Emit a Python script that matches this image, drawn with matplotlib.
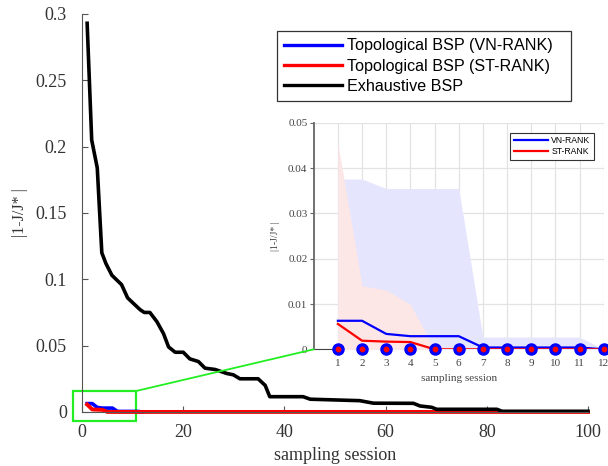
import numpy as np
import matplotlib.pyplot as plt
from matplotlib.patches import Rectangle, ConnectionPatch

# exhaustive BSP curve (vertices)
exh_x = [1, 1.9, 3.0, 3.9, 4.7, 5.9, 7.8, 9.0, 10.1, 11.5, 12.3, 13.4, 14.8, 16.1, 17.1,
         18.4, 20.0, 21.3, 23.0, 24.3, 26.3, 28.6, 29.9, 31.2, 34.8, 36.2, 37.1, 43.7,
         45.1, 54.9, 57.6, 65.5, 66.8, 69.1, 70.1, 82.0, 83.0, 100]
exh_y = [0.293, 0.205, 0.184, 0.120, 0.112, 0.103, 0.096, 0.086, 0.082, 0.077, 0.075,
         0.075, 0.068, 0.059, 0.049, 0.045, 0.045, 0.040, 0.038, 0.033, 0.032, 0.029,
         0.028, 0.025, 0.025, 0.020, 0.0115, 0.0115, 0.0096, 0.0085, 0.0066, 0.0065,
         0.0045, 0.0035, 0.002, 0.002, 0.0005, 0.0005]

# topological BSP, first 12 sessions
sessions = np.arange(1, 13)
vn_mean = [0.0063, 0.0063, 0.0034, 0.0029, 0.0029, 0.0029, 0.0004, 0.0004, 0.0004, 0.0004, 0.0004, 0.0]
st_mean = [0.0056, 0.0019, 0.0017, 0.0016, 0.0, 0.0, 0.0, 0.0, 0.0, 0.0, 0.0, 0.0]
vn_upper = [0.0376, 0.0376, 0.0355, 0.0355, 0.0355, 0.0355, 0.0027, 0.0027, 0.0027, 0.0027, 0.0027, 0.0]
st_upper = [0.0455, 0.014, 0.0131, 0.0099, 0.0, 0.0, 0.0, 0.0, 0.0, 0.0, 0.0, 0.0]

all_sessions = np.arange(1, 101)
st_full = np.concatenate([st_mean, np.zeros(100 - len(st_mean))])

serif = ['Liberation Serif', 'DejaVu Serif']
sans = ['Liberation Sans', 'DejaVu Sans']
axcol = '#555555'

fig = plt.figure(figsize=(6.08, 4.66), dpi=100)
ax = fig.add_axes([0.135, 0.116, 0.832, 0.854])

ax.plot(sessions, vn_mean, color='blue', lw=2.6, clip_on=False, label='Topological BSP (VN-RANK)')
ax.plot(all_sessions, st_full, color='red', lw=2.8, clip_on=False, label='Topological BSP (ST-RANK)')
ax.plot(exh_x, exh_y, color='black', lw=2.6, clip_on=False, label='Exhaustive BSP')

ax.set_xlim(0, 100)
ax.set_ylim(0, 0.3)
ax.set_xticks([0, 20, 40, 60, 80, 100])
ax.set_yticks([0, 0.05, 0.1, 0.15, 0.2, 0.25, 0.3])
ax.set_yticklabels(['0', '0.05', '0.1', '0.15', '0.2', '0.25', '0.3'])
for s in ['top', 'right']:
    ax.spines[s].set_visible(False)
for s in ['left', 'bottom']:
    ax.spines[s].set_color(axcol)
ax.tick_params(direction='in', length=4, color=axcol, labelcolor='#333333', labelsize=13)
ax.tick_params(axis='x', pad=9)
ax.tick_params(axis='y', pad=11)
for lab in ax.get_xticklabels() + ax.get_yticklabels():
    lab.set_family(serif)
ax.set_xlabel('sampling session', family=serif, fontsize=13, color='#333333', labelpad=4)
ax.set_ylabel('|1-J/J* |', family=serif, fontsize=11.5, color='#333333', labelpad=5)

leg = ax.legend(loc='upper left', bbox_to_anchor=(277 / 608, 1 - 99 / 466, 294 / 608, 68 / 466),
                bbox_transform=fig.transFigure, mode='expand', fancybox=False, edgecolor='#333333',
                prop={'family': sans, 'size': 11.6}, handlelength=3.6, labelspacing=0.33,
                borderpad=0.45, handletextpad=0.3, borderaxespad=0, framealpha=1)
leg.get_frame().set_linewidth(0.9)
for h in leg.get_lines():
    h.set_linewidth(2.4)

# zoom box + connector
rect = Rectangle((-1.7, -0.0068), 12.4, 0.0226, fill=False, edgecolor='#22ee22', lw=1.6, clip_on=False)
ax.add_patch(rect)

# inset
axi = fig.add_axes([0.516, 0.2504, 0.477, 0.486])
axi.fill_between(sessions, 0, vn_upper, color='#e5e5fd', lw=0, zorder=1)
axi.fill_between(sessions, 0, st_upper, color='#fde6e6', lw=0, zorder=1.5)
axi.plot(sessions, vn_mean, color='blue', lw=1.6, zorder=3, label='VN-RANK')
axi.plot(sessions, st_mean, color='red', lw=1.6, zorder=3, label='ST-RANK')
axi.plot(sessions, np.zeros(12), 'o', color='blue', ms=8, zorder=4, clip_on=False)
axi.plot(sessions, np.zeros(12), 'o', color='red', ms=3.2, zorder=5, clip_on=False)
axi.set_xlim(0, 12)
axi.set_ylim(0, 0.05)
axi.set_xticks(sessions)
axi.set_yticks([0, 0.01, 0.02, 0.03, 0.04, 0.05])
axi.set_yticklabels(['0', '0.01', '0.02', '0.03', '0.04', '0.05'])
axi.grid(True, color='#e3e3e3', lw=0.9)
axi.set_axisbelow(True)
for s in ['top', 'right']:
    axi.spines[s].set_visible(False)
axi.spines['left'].set_color('#666666')
axi.spines['left'].set_linewidth(1.3)
axi.spines['bottom'].set_color('#444444')
axi.spines['bottom'].set_bounds(0, 1)
axi.tick_params(axis='y', direction='out', length=3, color='#666666', labelcolor='#444444', labelsize=8, pad=1.5)
axi.tick_params(axis='x', length=0, labelcolor='#444444', labelsize=8, pad=7)
for lab in axi.get_xticklabels() + axi.get_yticklabels():
    lab.set_family(serif)
axi.set_xlabel('sampling session', family=serif, fontsize=8, color='#444444', labelpad=4)
axi.set_ylabel('|1-J/J* |', family=serif, fontsize=7, color='#444444', labelpad=6)
legi = axi.legend(loc='upper right', bbox_to_anchor=(594 / 608, 1 - 132.7 / 466),
                  bbox_transform=fig.transFigure, fancybox=False, edgecolor='#333333',
                  prop={'family': sans, 'size': 6.2}, handlelength=4, labelspacing=0.25,
                  borderpad=0.4, handletextpad=0.4, borderaxespad=0, framealpha=1)
legi.get_frame().set_linewidth(0.8)

con = ConnectionPatch(xyA=(10.7, 0.0158), coordsA=ax.transData, xyB=(0, 0), coordsB=axi.transData,
                      color='#22ee22', lw=1.3)
fig.add_artist(con)

fig.savefig('out.png', dpi=100)
